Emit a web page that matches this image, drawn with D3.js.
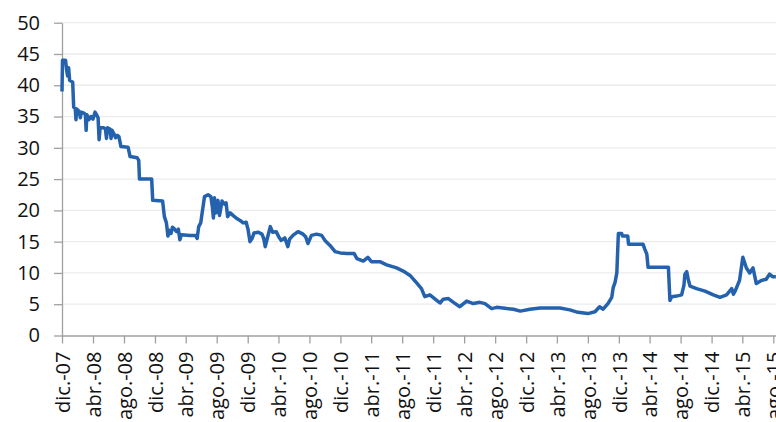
<!DOCTYPE html>
<html>
<head>
<meta charset="utf-8">
<title>Serie</title>
<script src="https://d3js.org/d3.v7.min.js"></script>
<style>
    body { margin: 0; background: #fff; }
    svg { display: block; }
    .tick text { font-family: "Open Sans", sans-serif; font-size: 20px; fill: #111; }
</style>
</head>
<body>
<svg width="776" height="422"></svg>
<script>
    // dates (daily series, sampled at turning points)
    const dates = [
        "2007-12-01","2007-12-03","2007-12-15","2007-12-19","2007-12-23","2007-12-27","2007-12-31",
        "2008-01-12","2008-01-16","2008-01-22","2008-01-25","2008-01-28","2008-02-07","2008-02-11","2008-02-15",
        "2008-02-27","2008-03-02","2008-03-05","2008-03-08","2008-03-16","2008-03-24","2008-04-01","2008-04-09",
        "2008-04-15","2008-04-21","2008-04-25","2008-04-29","2008-05-14","2008-05-20","2008-05-24","2008-05-28",
        "2008-06-07","2008-06-11","2008-06-15","2008-06-23","2008-06-29","2008-07-06","2008-07-12","2008-07-20",
        "2008-08-17","2008-08-25","2008-09-22","2008-09-28","2008-10-01","2008-11-18","2008-11-22","2008-12-31",
        "2009-01-07","2009-01-15","2009-01-21","2009-01-27","2009-02-02","2009-02-08","2009-02-16","2009-02-24",
        "2009-03-03","2009-03-09","2009-03-15","2009-04-18","2009-05-10","2009-05-16","2009-05-22","2009-05-30",
        "2009-06-06","2009-06-14","2009-06-28","2009-07-09","2009-07-15","2009-07-19","2009-07-23","2009-07-29",
        "2009-08-06","2009-08-12","2009-08-22","2009-09-01","2009-09-07","2009-09-13","2009-09-23","2009-10-04",
        "2009-10-16","2009-10-24","2009-11-01","2009-11-13","2009-11-25","2009-12-02","2009-12-10","2009-12-18",
        "2009-12-26","2010-01-12","2010-01-26","2010-02-02","2010-02-08","2010-02-16","2010-02-28","2010-03-09",
        "2010-03-23","2010-04-02","2010-04-12","2010-04-26","2010-05-08","2010-05-15","2010-05-28","2010-06-17",
        "2010-07-07","2010-07-17","2010-07-26","2010-08-09","2010-08-29","2010-09-18","2010-10-01","2010-10-21",
        "2010-11-10","2010-11-30","2010-12-27","2011-01-24","2011-02-04","2011-03-01","2011-03-19","2011-04-02",
        "2011-05-05","2011-06-01","2011-07-10","2011-08-05","2011-09-01","2011-09-27","2011-10-16","2011-10-29",
        "2011-11-18","2011-12-15","2011-12-28","2012-01-10","2012-01-30","2012-02-19","2012-03-15","2012-04-11",
        "2012-05-07","2012-06-02","2012-06-22","2012-07-18","2012-08-07","2012-09-16","2012-10-12","2012-11-08",
        "2012-12-16","2013-01-25","2013-03-04","2013-04-13","2013-05-22","2013-06-23","2013-08-01","2013-08-29",
        "2013-09-16","2013-09-30","2013-10-19","2013-11-03","2013-11-09","2013-11-16","2013-11-23","2013-11-29",
        "2013-12-12","2013-12-15","2014-01-05","2014-01-08","2014-03-06","2014-03-13","2014-03-21","2014-03-26",
        "2014-06-14","2014-06-20","2014-06-27","2014-07-16","2014-08-05","2014-08-14","2014-08-18","2014-08-25",
        "2014-08-31","2014-09-07","2014-10-03","2014-11-05","2014-12-08","2015-01-03","2015-01-29","2015-02-18",
        "2015-02-25","2015-03-05","2015-03-21","2015-04-03","2015-04-17","2015-04-30","2015-05-13","2015-05-26",
        "2015-06-15","2015-07-04","2015-07-17","2015-07-29","2015-08-11"
    ];
    const values = [
        39.0, 44.0, 44.0, 42.5, 41.5, 42.8, 40.8,
        40.5, 36.5, 36.3, 34.5, 36.2, 35.8, 34.8, 35.7,
        35.5, 35.3, 32.8, 35.3, 34.5, 35.0, 34.6, 35.7,
        35.3, 34.8, 31.3, 33.2, 33.2, 33.0, 31.5, 33.2,
        33.0, 31.5, 32.8, 32.2, 31.6, 32.0, 31.8, 30.2,
        30.1, 28.6, 28.4, 28.0, 25.0, 25.0, 21.6, 21.5,
        19.0, 18.0, 15.9, 16.8, 16.3, 17.3, 17.0, 16.6,
        17.0, 15.3, 16.1, 16.0, 16.0, 15.5, 17.4, 18.0,
        20.0, 22.2, 22.5, 22.2, 20.5, 18.8, 22.0, 19.6,
        21.6, 19.2, 21.5, 21.0, 21.2, 19.0, 19.6, 19.2,
        18.8, 18.6, 18.4, 18.0, 18.1, 17.0, 15.0, 15.5,
        16.4, 16.5, 16.2, 15.5, 14.2, 15.5, 17.4, 16.5,
        16.6, 15.8, 15.2, 15.6, 14.2, 15.4, 16.0, 16.6,
        16.2, 15.8, 14.7, 16.0, 16.2, 16.0, 15.2, 14.4,
        13.4, 13.2, 13.1, 13.1, 12.3, 11.9, 12.5, 11.8,
        11.8, 11.3, 10.8, 10.3, 9.6, 8.4, 7.5, 6.2,
        6.5, 5.6, 5.2, 5.8, 5.9, 5.3, 4.6, 5.5,
        5.1, 5.3, 5.1, 4.3, 4.5, 4.3, 4.2, 3.9,
        4.2, 4.4, 4.4, 4.4, 4.1, 3.7, 3.5, 3.8,
        4.6, 4.2, 5.1, 6.1, 7.7, 8.5, 10.0, 16.3,
        16.3, 15.9, 15.9, 14.6, 14.6, 13.8, 13.0, 10.9,
        10.9, 5.6, 6.2, 6.3, 6.5, 8.0, 9.8, 10.2,
        9.0, 7.9, 7.5, 7.1, 6.5, 6.1, 6.5, 7.5,
        6.6, 7.2, 8.8, 12.5, 10.8, 10.0, 10.8, 8.3,
        8.8, 9.0, 9.8, 9.4, 9.4
    ];
    const tickLabels = [
        "dic.-07","abr.-08","ago.-08","dic.-08","abr.-09","ago.-09","dic.-09","abr.-10",
        "ago.-10","dic.-10","abr.-11","ago.-11","dic.-11","abr.-12","ago.-12","dic.-12",
        "abr.-13","ago.-13","dic.-13","abr.-14","ago.-14","dic.-14","abr.-15","ago.-15"
    ];
    const yTicks = [0, 5, 10, 15, 20, 25, 30, 35, 40, 45, 50];

    const parse = d3.timeParse("%Y-%m-%d");
    const data = dates.map((d, i) => ({ date: parse(d), value: values[i] }));

    const W = 776, H = 422;
    const plotLeft = 62, plotBottom = 335.5, plotTop = 22.7;

    const svg = d3.select("svg");

    const start = parse("2007-12-01");
    const x = d3.scaleTime()
        .domain([start, parse("2015-09-01")])
        .range([plotLeft, 781.2]);

    const y = d3.scaleLinear()
        .domain([0, 50])
        .range([plotBottom, plotTop]);

    // gridlines
    svg.append("g")
        .selectAll("line")
        .data(yTicks.filter(d => d > 0))
        .join("line")
        .attr("x1", plotLeft)
        .attr("x2", W)
        .attr("y1", d => y(d))
        .attr("y2", d => y(d))
        .attr("stroke", "#ececec")
        .attr("stroke-width", 1.3);

    const tickDates = tickLabels.map((t, i) => d3.timeMonth.offset(start, 4 * i));

    const xAxis = svg.append("g")
        .attr("transform", `translate(0,${plotBottom})`)
        .call(d3.axisBottom(x)
            .tickValues(tickDates)
            .tickFormat((d, i) => tickLabels[i])
            .tickSize(8)
            .tickSizeOuter(0));
    xAxis.selectAll("text")
        .attr("transform", "rotate(-90)")
        .attr("text-anchor", "end")
        .attr("x", -16)
        .attr("y", 0)
        .attr("dy", "0.36em");

    const yAxis = svg.append("g")
        .attr("transform", `translate(${plotLeft},0)`)
        .call(d3.axisLeft(y)
            .tickValues(yTicks)
            .tickSize(8)
            .tickSizeOuter(0)
            .tickPadding(14));

    svg.selectAll(".domain, .tick line")
        .attr("stroke", "#a0a0a0")
        .attr("stroke-width", 1.3);

    const line = d3.line()
        .x(d => x(d.date))
        .y(d => y(d.value));

    svg.append("path")
        .datum(data)
        .attr("fill", "none")
        .attr("stroke", "#2462ae")
        .attr("stroke-width", 3.5)
        .attr("stroke-linejoin", "round")
        .attr("d", line);
</script>
</body>
</html>
